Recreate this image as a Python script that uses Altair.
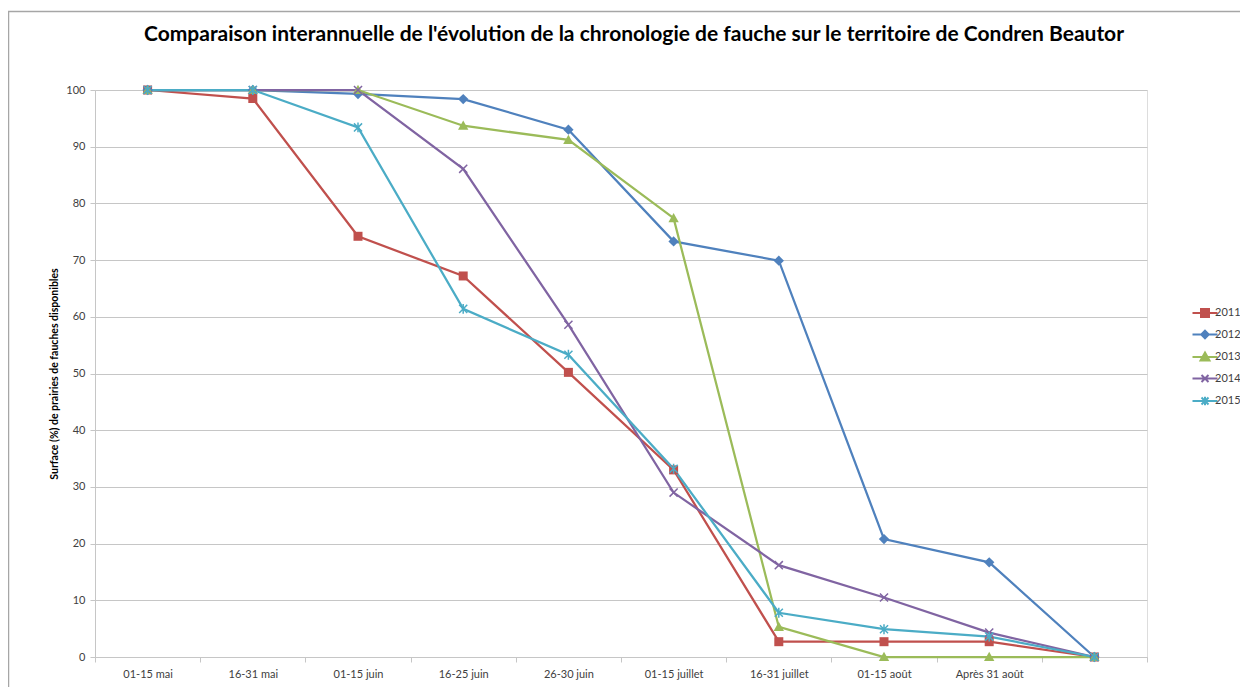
import altair as alt
import pandas as pd

categories = ["01-15 mai", "16-31 mai", "01-15 juin", "16-25 juin", "26-30 juin",
              "01-15 juillet", "16-31 juillet", "01-15 août", "Après 31 août", " "]
years = ["2011", "2012", "2013", "2014", "2015"]
v2011 = [100, 98.5, 74.2, 67.2, 50.2, 33.0, 2.7, 2.7, 2.7, 0]
v2012 = [100, 100, 99.3, 98.4, 93.0, 73.3, 69.9, 20.8, 16.7, 0]
v2013 = [100, 100, 100, 93.7, 91.2, 77.4, 5.3, 0, 0, 0]
v2014 = [100, 100, 100, 86.1, 58.6, 29.0, 16.2, 10.5, 4.3, 0]
v2015 = [100, 100, 93.4, 61.4, 53.3, 33.2, 7.8, 4.9, 3.6, 0]
colors = ["#C0504D", "#4F81BD", "#9BBB59", "#8064A2", "#4BACC6"]

series = {"2011": v2011, "2012": v2012, "2013": v2013, "2014": v2014, "2015": v2015}
rows = []
for yr, vals in series.items():
    for i, (c, v) in enumerate(zip(categories, vals)):
        rows.append({"periode": c, "serie": yr, "valeur": v, "ordre": i})
df = pd.DataFrame(rows)

FONT = "Lato"
GRID = "#C6C6C6"
LABEL = "#404040"
FRAME = "#A6A6A6"

marker_paths = [
    "M-1,-1H1V1H-1Z",
    "M0,-1.15L1.15,0L0,1.15L-1.15,0Z",
    "M0,-1.15L1.15,0.9H-1.15Z",
    "M-0.9,-0.9L0.9,0.9M-0.9,0.9L0.9,-0.9",
    "M-0.9,-0.9L0.9,0.9M-0.9,0.9L0.9,-0.9M0,-1.1V1.1",
]
marker_filled = [True, True, True, False, False]
legend_paths = [
    "M-2.5,0H2.5M-0.8,-0.8H0.8V0.8H-0.8Z",
    "M-2.5,0H2.5M0,-0.75L0.75,0L0,0.75L-0.75,0Z",
    "M-2.5,0H2.5M0,-0.9L0.9,0.7H-0.9Z",
    "M-2.5,0H2.5M-0.7,-0.7L0.7,0.7M-0.7,0.7L0.7,-0.7",
    "M-2.5,0H2.5M-0.7,-0.7L0.7,0.7M-0.7,0.7L0.7,-0.7M0,-0.85V0.85",
]

legend = alt.Legend(
    title=None, orient="none", legendX=1104, legendY=217, padding=0,
    symbolSize=100, symbolStrokeWidth=2, rowPadding=5.5, labelOffset=4,
    labelFont=FONT, labelFontSize=11, labelColor=LABEL, symbolOpacity=1,
)

color_scale = alt.Scale(domain=years, range=colors)

x = alt.X("periode:N", sort=categories, bandPosition=0.5,
          scale=alt.Scale(type="band", domain=categories, paddingInner=0, paddingOuter=0),
          axis=alt.Axis(title=None, tickBand="extent", labelAngle=0, grid=False,
                        domainColor=GRID, tickColor=GRID, tickSize=5,
                        labelFont=FONT, labelFontSize=11, labelColor=LABEL, labelPadding=6))
y = alt.Y("valeur:Q", scale=alt.Scale(domain=[0, 100], nice=False),
          axis=alt.Axis(title="Surface (%) de prairies de fauches disponibles",
                        values=list(range(0, 101, 10)), grid=True, gridColor=GRID,
                        domainColor=GRID, tickColor=GRID, tickSize=5,
                        labelFont=FONT, labelFontSize=11, labelColor=LABEL, labelPadding=5,
                        titleFont=FONT, titleFontSize=10.5, titleFontWeight="bold",
                        titleColor="#000000", titlePadding=6))

base = alt.Chart(df)
color_nolegend = alt.Color("serie:N", scale=color_scale, legend=None)

legend_layer = base.mark_point(
    filled=True, size=100, opacity=0, strokeWidth=2,
    stroke={"expr": "scale('color', datum.value)"},
).encode(
    x=x, y=y,
    color=alt.Color("serie:N", scale=color_scale, legend=legend),
    shape=alt.Shape("serie:N", scale=alt.Scale(domain=years, range=legend_paths), legend=legend),
)

# chart frame (decoration, like the Excel chart border)
frame_df = pd.DataFrame({"k": [0]})
frame = alt.Chart(frame_df).mark_rect(fillOpacity=0, stroke=FRAME, strokeWidth=1.5).encode(
    x=alt.value(-86.5), x2=alt.value(1200), y=alt.value(-78.5), y2=alt.value(650))

layers = [frame, legend_layer,
          base.mark_line(strokeWidth=2.25).encode(x=x, y=y, color=color_nolegend, order="ordre:Q")]
for yr, path, filled in zip(years, marker_paths, marker_filled):
    pts = base.transform_filter(alt.datum.serie == yr)
    if filled:
        m = pts.mark_point(filled=True, size=81, opacity=1, shape=path)
    else:
        m = pts.mark_point(filled=False, size=81, strokeWidth=1.5, opacity=1, shape=path)
    layers.append(m.encode(x=x, y=y, color=color_nolegend))

chart = alt.layer(*layers).properties(
    width=1052, height=567,
    autosize=alt.AutoSizeParams(type="none"),
    padding={"left": 87, "top": 82, "right": 93, "bottom": 30},
    title=alt.TitleParams(
        "Comparaison interannuelle de l'évolution de la chronologie de fauche sur le territoire de Condren Beautor",
        font=FONT, fontSize=21, fontWeight="bold", color="#000000",
        anchor="middle", dx=13, offset=-34),
).configure_view(stroke=None).configure(background="white")

chart.save("out.html", embed_options={"renderer": "svg", "actions": False})
